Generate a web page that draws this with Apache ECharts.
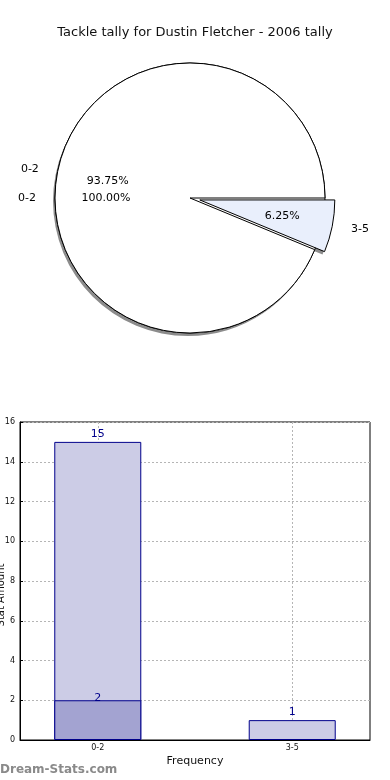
<!DOCTYPE html>
<html><head><meta charset="utf-8">
<script src="https://cdn.jsdelivr.net/npm/echarts@6/dist/echarts.min.js"></script>
<style>html,body{margin:0;padding:0;background:#fff}#c{width:390px;height:780px}</style>
</head><body><div id="c"></div>
<script>
const titleText = 'Tackle tally for Dustin Fletcher - 2006 tally';
const categories = ['0-2', '3-5'];
const totalValues = [15, 1];
const subCategories = ['0-2'];
const subValues = [2];
const yTicks = [0, 2, 4, 6, 8, 10, 12, 14, 16];

const F = 'DejaVu Sans';
const R = 135;
const C = [190, 198];
const pieColors = ['#ffffff', '#e9effc'];
const pctFmt = p => p.percent.toFixed(2) + '%';

const mainData = categories.map((c, i) => ({name: c, value: totalValues[i], selected: i === 1,
  itemStyle: {color: pieColors[i]}}));
const subData = subCategories.map((c, i) => ({name: c, value: subValues[i], itemStyle: {color: '#ffffff'}}));

const pieBase = {
  type: 'pie', center: C, startAngle: 0, clockwise: false, avoidLabelOverlap: false,
  selectedMode: 'single', selectedOffset: 10, silent: true, animation: false,
  emphasis: {disabled: true}
};
const outerLabel = {show: true, position: 'outside', color: '#000', fontFamily: F, fontSize: 11,
  formatter: '{b}'};
const outerLine = {show: false, length: 14, length2: 0};
const border = {borderColor: '#000', borderWidth: 1};
const shadowData = mainData.map(d => Object.assign({}, d, {itemStyle: {color: '#8c8c8c'}}));

const option = {
  animation: false,
  title: {text: titleText, left: 'center', top: 21, textStyle: {fontFamily: F, fontSize: 13, fontWeight: 'normal', color: '#111'}},
  grid: {left: 20, right: 20, top: 422, bottom: 40, outerBoundsMode: 'none', containLabel: false,
    show: true, borderColor: '#000', borderWidth: 1, backgroundColor: 'transparent'},
  xAxis: {
    type: 'value', min: -0.4, max: 1.4,
    name: 'Frequency', nameLocation: 'middle', nameGap: 16,
    nameTextStyle: {fontFamily: F, fontSize: 11, color: '#111'},
    axisLine: {show: true, onZero: false, lineStyle: {color: '#000'}},
    axisTick: {show: true, inside: true, length: 3, customValues: [0, 1], lineStyle: {color: '#000'}},
    axisLabel: {customValues: [0, 1], formatter: v => categories[Math.round(v)], fontFamily: F, fontSize: 8, color: '#111', margin: 4},
    splitLine: {show: true, lineStyle: {color: '#b5b5b5', type: [2, 2], width: 1}}
  },
  yAxis: {
    type: 'value', min: 0, max: 16, interval: 2,
    name: 'Stat Amount', nameLocation: 'middle', nameRotate: 90, nameGap: 19, nameMoveOverlap: false,
    nameTextStyle: {fontFamily: F, fontSize: 10, color: '#111'},
    axisLine: {show: true, onZero: false, lineStyle: {color: '#000'}},
    axisTick: {show: true, inside: true, length: 3, lineStyle: {color: '#000'}},
    axisLabel: {fontFamily: F, fontSize: 8, color: '#111', margin: 5, formatter: v => yTicks.includes(v) ? String(v) : ''},
    splitLine: {show: true, lineStyle: {color: '#b5b5b5', type: [2, 2], width: 1}}
  },
  graphic: [
    {type: 'text', left: 0, top: 764, style: {text: 'Dream-Stats.com', fontFamily: F, fontSize: 12, fill: '#8a8a8a', fontWeight: 'bold'}},
    {type: 'text', x: 1, y: 595, rotation: Math.PI / 2, style: {text: 'Stat Amount', fontFamily: F, fontSize: 10, fill: '#111', align: 'center', verticalAlign: 'middle'}}
  ],
  series: [
    Object.assign({}, pieBase, {center: [C[0] - 2, C[1] + 3], radius: [0, R], data: shadowData, label: {show: false}, labelLine: {show: false},
      itemStyle: {borderWidth: 0}}),
    Object.assign({}, pieBase, {radius: [0, R], data: subData, label: outerLabel, labelLine: outerLine,
      itemStyle: border}),
    Object.assign({}, pieBase, {radius: [0, R], data: mainData, label: outerLabel, labelLine: outerLine,
      itemStyle: border}),
    Object.assign({}, pieBase, {radius: [R * 0.2, R], data: mainData.map(d => Object.assign({}, d, {itemStyle: {color: 'transparent'}})),
      label: {show: true, position: 'inside', color: '#000', fontFamily: F, fontSize: 11, formatter: pctFmt}, labelLine: {show: false},
      itemStyle: {color: 'transparent', borderWidth: 0}}),
    Object.assign({}, pieBase, {radius: [R * 0.2, R], data: subData.map(d => Object.assign({}, d, {itemStyle: {color: 'transparent'}})),
      label: {show: true, position: 'inside', color: '#000', fontFamily: F, fontSize: 11, formatter: pctFmt}, labelLine: {show: false},
      itemStyle: {color: 'transparent', borderWidth: 0}}),
    {type: 'bar', name: 'total', barWidth: 87, barGap: '-100%',
      data: totalValues.map((v, i) => [i, v]),
      itemStyle: {color: '#ccccE6', borderColor: '#00008b', borderWidth: 1},
      label: {show: true, position: 'top', distance: 2, color: '#00008b', fontFamily: F, fontSize: 11, formatter: p => p.value[1]}},
    {type: 'bar', name: 'sub', barWidth: 87, barGap: '-100%',
      data: subValues.map((v, i) => [i, v]),
      itemStyle: {color: '#a3a3d1', borderColor: '#00008b', borderWidth: 1},
      label: {show: true, position: 'top', distance: -3, color: '#00008b', fontFamily: F, fontSize: 11, formatter: p => p.value[1]}}
  ]
};
echarts.init(document.getElementById('c'), null, {renderer: 'canvas'}).setOption(option);
</script></body></html>
